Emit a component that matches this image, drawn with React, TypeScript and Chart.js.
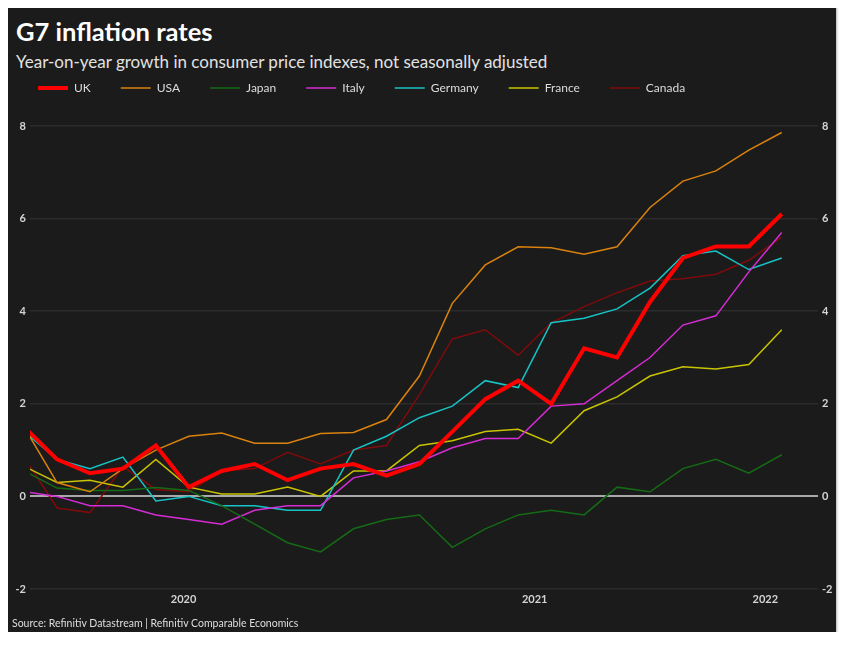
import React, { useEffect, useRef } from "react";
import { Chart, registerables } from "chart.js";

Chart.register(...registerables);

// Monthly observations, March 2020 to February 2022
const months = [
  "2020-03", "2020-04", "2020-05", "2020-06", "2020-07", "2020-08",
  "2020-09", "2020-10", "2020-11", "2020-12", "2021-01", "2021-02",
  "2021-03", "2021-04", "2021-05", "2021-06", "2021-07", "2021-08",
  "2021-09", "2021-10", "2021-11", "2021-12", "2022-01", "2022-02",
];

const yearLabels = ["2020", "2021", "2022"];
const yTickStep = 2;
const yMinValue = -2;
const yMaxValue = 8;

const uk = [1.5, 0.8, 0.5, 0.6, 1.1, 0.2, 0.55, 0.7, 0.35, 0.6, 0.7, 0.45, 0.7, 1.4, 2.1, 2.5, 2.0, 3.2, 3.0, 4.2, 5.15, 5.4, 5.4, 6.1];
const usa = [1.5, 0.3, 0.1, 0.6, 1.0, 1.3, 1.37, 1.15, 1.15, 1.36, 1.38, 1.66, 2.6, 4.17, 5.0, 5.39, 5.37, 5.23, 5.39, 6.24, 6.81, 7.03, 7.48, 7.86];
const japan = [0.55, 0.18, 0.13, 0.13, 0.19, 0.13, -0.2, -0.6, -1.0, -1.2, -0.7, -0.5, -0.4, -1.1, -0.7, -0.4, -0.3, -0.4, 0.2, 0.1, 0.6, 0.8, 0.5, 0.9];
const italy = [0.1, 0.0, -0.2, -0.2, -0.4, -0.5, -0.6, -0.3, -0.2, -0.2, 0.4, 0.55, 0.75, 1.05, 1.25, 1.25, 1.95, 2.0, 2.5, 3.0, 3.7, 3.9, 4.85, 5.7];
const germany = [1.4, 0.8, 0.6, 0.85, -0.1, 0.0, -0.2, -0.2, -0.3, -0.3, 1.0, 1.3, 1.7, 1.95, 2.5, 2.35, 3.75, 3.85, 4.05, 4.5, 5.2, 5.3, 4.9, 5.15];
const france = [0.65, 0.3, 0.35, 0.2, 0.8, 0.2, 0.05, 0.05, 0.2, 0.0, 0.55, 0.55, 1.1, 1.2, 1.4, 1.45, 1.15, 1.85, 2.15, 2.6, 2.8, 2.75, 2.85, 3.6];
const canada = [0.85, -0.25, -0.35, 0.65, 0.15, 0.1, 0.55, 0.6, 0.95, 0.7, 1.0, 1.1, 2.2, 3.4, 3.6, 3.05, 3.75, 4.1, 4.4, 4.65, 4.7, 4.8, 5.1, 5.6];

const seriesNames = ["UK", "USA", "Japan", "Italy", "Germany", "France", "Canada"];
const seriesValues = [uk, usa, japan, italy, germany, france, canada];
const seriesColors = ["#ff0000", "#d9820e", "#156b15", "#d62cd6", "#17c3c6", "#c9c400", "#7e0b0b"];
const seriesWidths = [4, 1.5, 1.5, 1.5, 1.5, 1.5, 1.5];

// visible x range (in month index units)
const xMin = 0.18;
const xMax = 24.1;

const FONT = "Lato, 'Open Sans', sans-serif";

export default function App() {
  const ref = useRef<HTMLCanvasElement | null>(null);

  useEffect(() => {
    if (!ref.current) return;

    const yearTickValues = yearLabels.map((yr) => {
      const idx = months.map((m, i) => (m.startsWith(yr) ? i : -1)).filter((i) => i >= 0);
      const lo = Math.max(xMin, idx[0] - 0.5);
      const hi = Math.min(xMax, idx[idx.length - 1] + 0.5);
      return (lo + hi) / 2;
    });

    const datasets = seriesNames.map((name, k) => ({
      label: name,
      data: seriesValues[k].map((v, i) => ({ x: i, y: v })),
      borderColor: seriesColors[k],
      backgroundColor: seriesColors[k],
      borderWidth: seriesWidths[k],
      pointRadius: 0,
      pointHoverRadius: 0,
      tension: 0,
      fill: false,
      xAxisID: "x",
      yAxisID: "y",
    }));

    const tickFont = { family: FONT, size: 11, weight: "bold" as const };
    const tickColor = "#d4d4d4";

    const chart = new Chart(ref.current, {
      type: "line",
      data: { datasets },
      options: {
        animation: false,
        responsive: true,
        maintainAspectRatio: false,
        layout: { padding: 0 },
        plugins: {
          legend: {
            display: true,
            position: "top",
            align: "start",
            labels: {
              usePointStyle: true,
              pointStyle: "line",
              pointStyleWidth: 30,
              padding: 30,
              color: "#dcdcdc",
              font: { family: FONT, size: 12 },
            },
          },
          title: { display: false },
          tooltip: { enabled: false },
        },
        scales: {
          x: {
            type: "linear",
            position: "bottom",
            min: xMin,
            max: xMax,
            grid: { display: false, drawTicks: false },
            border: { display: false },
            afterBuildTicks: (s: any) => {
              s.ticks = yearTickValues.map((v) => ({ value: v }));
            },
            ticks: {
              autoSkip: false,
              maxRotation: 0,
              padding: 4,
              color: tickColor,
              font: tickFont,
              callback: (_v: any, i: number) => yearLabels[i],
            },
            afterFit: (s: any) => {
              s.height = 43;
            },
          },
          xTop: {
            type: "linear",
            axis: "x",
            position: "top",
            min: 0,
            max: 1,
            grid: { display: false, drawTicks: false },
            border: { display: false },
            ticks: { display: false },
            afterFit: (s: any) => {
              s.height = 22;
            },
          },
          y: {
            type: "linear",
            position: "left",
            min: yMinValue,
            max: yMaxValue,
            border: { display: false },
            grid: {
              drawTicks: false,
              color: (c: any) => (c.tick && c.tick.value === 0 ? "#a8a8a8" : "#2c2c2c"),
              lineWidth: (c: any) => (c.tick && c.tick.value === 0 ? 2 : 1.5),
            },
            ticks: { stepSize: yTickStep, padding: 4, color: tickColor, font: tickFont },
            afterFit: (s: any) => {
              s.width = 22;
            },
          },
          y2: {
            type: "linear",
            axis: "y",
            position: "right",
            min: yMinValue,
            max: yMaxValue,
            border: { display: false },
            grid: { display: false, drawTicks: false },
            ticks: { stepSize: yTickStep, padding: 4, color: tickColor, font: tickFont },
            afterFit: (s: any) => {
              s.width = 18;
            },
          },
        },
      } as any,
    });

    return () => chart.destroy();
  }, []);

  return (
    <div
      style={{
        position: "relative",
        width: 828,
        height: 628,
        marginTop: -4,
        boxSizing: "border-box",
        background: "#1b1b1b",
        borderTop: "4px solid #8a8a8a",
        boxShadow: "0 2px 3px rgba(0,0,0,0.55)",
        fontFamily: FONT,
      }}
    >
      <div
        style={{
          position: "absolute",
          left: 8,
          top: 8,
          color: "#ffffff",
          fontSize: 25.5,
          fontWeight: 700,
          lineHeight: "30px",
          whiteSpace: "nowrap",
        }}
      >
        G7 inflation rates
      </div>
      <div
        style={{
          position: "absolute",
          left: 8,
          top: 43,
          color: "#e2e2e2",
          fontSize: 17,
          lineHeight: "22px",
          whiteSpace: "nowrap",
        }}
      >
        Year-on-year growth in consumer price indexes, not seasonally adjusted
      </div>
      <div style={{ position: "absolute", left: 0, top: 44, width: 828, height: 580 }}>
        <canvas ref={ref} />
      </div>
      <div
        style={{
          position: "absolute",
          left: 4,
          top: 608,
          color: "#dedede",
          fontSize: 10.5,
          lineHeight: "14px",
          whiteSpace: "nowrap",
        }}
      >
        Source: Refinitiv Datastream | Refinitiv Comparable Economics
      </div>
    </div>
  );
}
